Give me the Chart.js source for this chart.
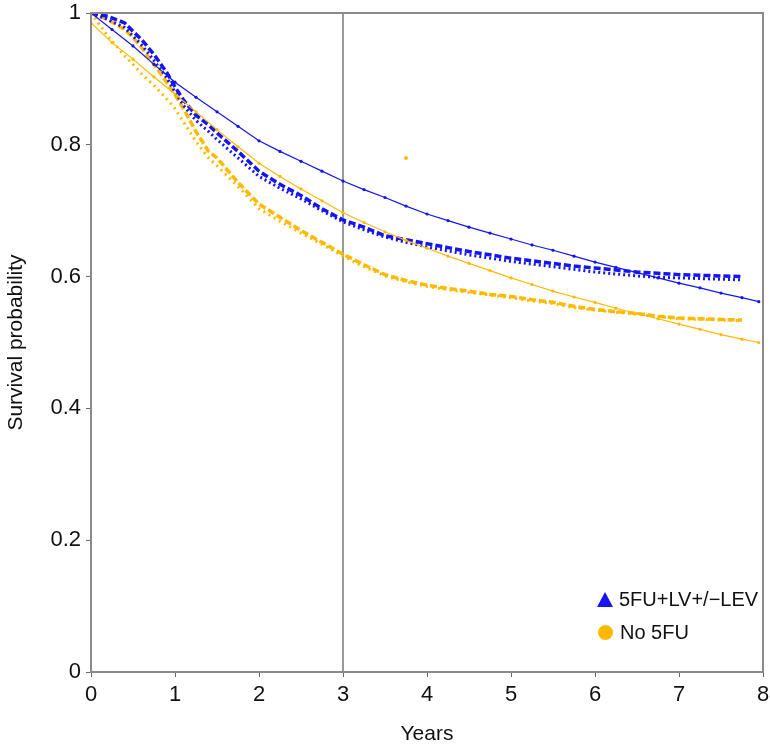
<!DOCTYPE html>
<html>
<head>
<meta charset="utf-8">
<script src="https://cdn.jsdelivr.net/npm/chart.js@4/dist/chart.umd.min.js"></script>
<style>
    body { margin: 0; background: #fff; }
    #wrap { position: relative; width: 770px; height: 751px; }
    #legend {
        position: absolute; left: 597px; top: 583px;
        font-family: "Liberation Sans", Arial, sans-serif;
        font-size: 20px; color: #111; line-height: 33px;
    }
    #legend .row { display: flex; align-items: center; height: 33px; }
    #legend .tri {
        width: 0; height: 0; margin-right: 6px;
        border-left: 8px solid transparent; border-right: 8px solid transparent;
        border-bottom: 15px solid #1515f0;
    }
    #legend .dot {
        width: 15px; height: 15px; border-radius: 50%; margin: 0 7px 0 1px;
        background: #ffba00;
    }
</style>
</head>
<body>
<div id="wrap">
    <canvas id="chartKM" width="770" height="751"></canvas>
    <div id="legend">
        <div class="row"><span class="tri"></span>5FU+LV+/&minus;LEV</div>
        <div class="row"><span class="dot"></span>No 5FU</div>
    </div>
</div>
<script>
const blueColor = "#1515f0";
const yellowColor = "#ffba00";

// fitted curves (thin, small dots)
const fitYears = [0, 0.25, 0.5, 0.75, 1, 1.25, 1.5, 1.75, 2, 2.25, 2.5, 2.75, 3, 3.25, 3.5, 3.75, 4, 4.25, 4.5, 4.75, 5, 5.25, 5.5, 5.75, 6, 6.25, 6.5, 6.75, 7, 7.25, 7.5, 7.75, 7.95];
const blueFit = [1.0, 0.975, 0.95, 0.922, 0.895, 0.872, 0.85, 0.828, 0.806, 0.79, 0.775, 0.76, 0.745, 0.732, 0.72, 0.707, 0.695, 0.685, 0.675, 0.666, 0.657, 0.648, 0.64, 0.631, 0.622, 0.614, 0.606, 0.598, 0.59, 0.583, 0.575, 0.568, 0.562];
const yellowFit = [0.985, 0.955, 0.93, 0.903, 0.877, 0.85, 0.823, 0.797, 0.772, 0.752, 0.733, 0.715, 0.697, 0.682, 0.668, 0.655, 0.643, 0.631, 0.62, 0.609, 0.598, 0.588, 0.578, 0.569, 0.561, 0.552, 0.544, 0.536, 0.528, 0.52, 0.512, 0.505, 0.50];

// Kaplan-Meier curves
const kmYears = [0, 0.2, 0.4, 0.5, 0.6, 0.75, 0.9, 1, 1.1, 1.25, 1.4, 1.5, 1.75, 2, 2.25, 2.5, 2.75, 3, 3.25, 3.5, 3.75, 4, 4.25, 4.5, 4.75, 5, 5.25, 5.5, 5.75, 6, 6.25, 6.5, 6.75, 7, 7.25, 7.5, 7.75];
const blueKM1 = [1, 0.995, 0.985, 0.972, 0.96, 0.937, 0.91, 0.888, 0.868, 0.845, 0.83, 0.818, 0.79, 0.76, 0.74, 0.723, 0.703, 0.686, 0.675, 0.662, 0.656, 0.65, 0.644, 0.638, 0.633, 0.628, 0.624, 0.62, 0.616, 0.613, 0.61, 0.607, 0.605, 0.603, 0.602, 0.601, 0.6];
const blueKM2 = [1, 0.99, 0.978, 0.965, 0.952, 0.928, 0.902, 0.88, 0.86, 0.837, 0.82, 0.808, 0.78, 0.752, 0.734, 0.718, 0.7, 0.683, 0.671, 0.66, 0.652, 0.645, 0.639, 0.633, 0.628, 0.623, 0.619, 0.615, 0.611, 0.607, 0.604, 0.601, 0.599, 0.598, 0.597, 0.596, 0.595];
const yellowKM1 = [1, 0.99, 0.975, 0.963, 0.948, 0.922, 0.895, 0.876, 0.855, 0.82, 0.79, 0.78, 0.743, 0.71, 0.69, 0.67, 0.652, 0.634, 0.618, 0.603, 0.594, 0.587, 0.582, 0.578, 0.573, 0.57, 0.565, 0.561, 0.555, 0.55, 0.547, 0.544, 0.54, 0.537, 0.536, 0.535, 0.534];
const yellowKM2 = [1, 0.965, 0.935, 0.922, 0.908, 0.89, 0.87, 0.855, 0.835, 0.805, 0.78, 0.768, 0.737, 0.703, 0.684, 0.666, 0.649, 0.631, 0.615, 0.601, 0.592, 0.585, 0.58, 0.576, 0.572, 0.568, 0.563, 0.559, 0.553, 0.549, 0.546, 0.543, 0.539, 0.536, 0.535, 0.534, 0.533];

// stray point and reference line
const strayPoint = [{ x: 3.75, y: 0.78 }];
const refYear = 3;

const xTicks = [0, 1, 2, 3, 4, 5, 6, 7, 8];
const yTicks = [0, 0.2, 0.4, 0.6, 0.8, 1];

function toXY(xs, ys) {
    return ys.map((y, i) => ({ x: xs[i], y: y }));
}

const frame = {
    id: "frame",
    afterDatasetsDraw(chart) {
        const a = chart.chartArea;
        const ctx = chart.ctx;
        ctx.save();
        ctx.strokeStyle = "#8a8a8a";
        ctx.lineWidth = 2;
        ctx.strokeRect(a.left, a.top, a.right - a.left, a.bottom - a.top);
        ctx.restore();
    }
};

const fontFam = "'Liberation Sans', Arial, sans-serif";

new Chart(document.getElementById("chartKM"), {
    type: "line",
    data: {
        datasets: [
            {
                data: toXY(fitYears, blueFit),
                borderColor: blueColor, backgroundColor: blueColor,
                borderWidth: 1.2, pointRadius: 1.6, pointBorderWidth: 0
            },
            {
                data: toXY(fitYears, yellowFit),
                borderColor: yellowColor, backgroundColor: yellowColor,
                borderWidth: 1.2, pointRadius: 1.6, pointBorderWidth: 0
            },
            {
                data: toXY(kmYears, blueKM1),
                borderColor: blueColor, borderWidth: 3.5,
                borderDash: [7, 3], pointRadius: 0
            },
            {
                data: toXY(kmYears, blueKM2),
                borderColor: blueColor, borderWidth: 3,
                borderDash: [2, 3], pointRadius: 0
            },
            {
                data: toXY(kmYears, yellowKM1),
                borderColor: yellowColor, borderWidth: 3.5,
                borderDash: [7, 3], pointRadius: 0
            },
            {
                data: toXY(kmYears, yellowKM2),
                borderColor: yellowColor, borderWidth: 3,
                borderDash: [2, 4], pointRadius: 0
            },
            {
                type: "scatter",
                data: strayPoint,
                backgroundColor: yellowColor, pointRadius: 2, pointBorderWidth: 0
            },
            {
                data: [{ x: refYear, y: 0 }, { x: refYear, y: 1 }],
                borderColor: "#999999", borderWidth: 2, pointRadius: 0
            }
        ]
    },
    plugins: [frame],
    options: {
        responsive: false,
        animation: false,
        layout: { padding: { top: 13, right: 7, left: 0, bottom: 0 } },
        plugins: { legend: { display: false }, tooltip: { enabled: false } },
        scales: {
            x: {
                type: "linear", min: 0, max: 8,
                afterBuildTicks: axis => { axis.ticks = xTicks.map(v => ({ value: v })); },
                afterFit: axis => {
                    axis.height = 79;
                    axis.paddingLeft = 0;
                    axis.paddingRight = 0;
                },
                border: { color: "#8a8a8a", width: 2 },
                grid: { drawOnChartArea: false, tickLength: 5, color: "#666" },
                ticks: { font: { family: fontFam, size: 22 }, color: "#111", padding: 5, maxRotation: 0, callback: v => String(v) },
                title: { display: true, text: "Years", font: { family: fontFam, size: 21 }, color: "#111", padding: { top: 4 } }
            },
            y: {
                min: 0, max: 1,
                afterBuildTicks: axis => { axis.ticks = yTicks.map(v => ({ value: v })); },
                afterFit: axis => {
                    axis.width = 91;
                    axis.paddingTop = 0;
                    axis.paddingBottom = 0;
                },
                border: { color: "#8a8a8a", width: 2 },
                grid: { drawOnChartArea: false, tickLength: 5, color: "#666" },
                ticks: { font: { family: fontFam, size: 22 }, color: "#111", padding: 5, callback: v => String(v) },
                title: { display: true, text: "Survival probability", font: { family: fontFam, size: 21 }, color: "#111", padding: { bottom: 2 } }
            }
        }
    }
});
</script>
</body>
</html>
